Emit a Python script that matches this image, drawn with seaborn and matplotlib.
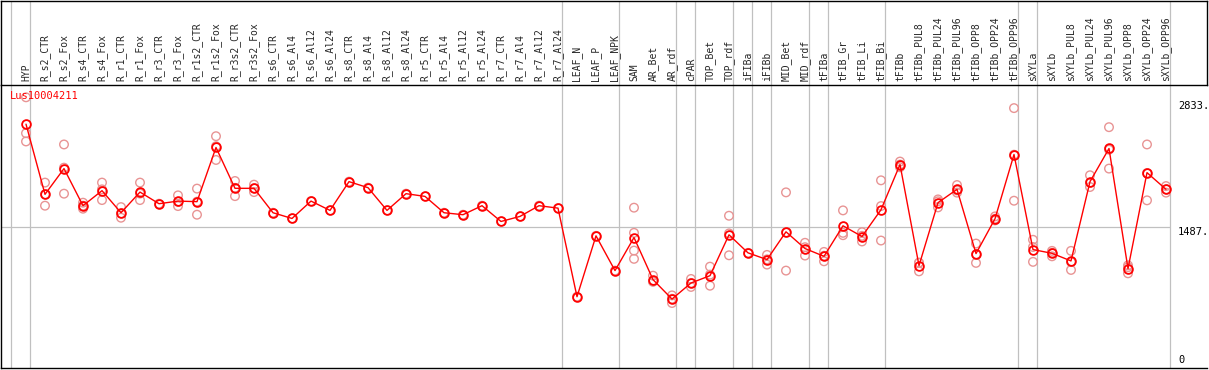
import numpy as np
import pandas as pd
import matplotlib
matplotlib.use("Agg")
import matplotlib.pyplot as plt
import seaborn as sns

categories = [
    "HYP", "R_s2_CTR", "R_s2_Fox", "R_s4_CTR", "R_s4_Fox", "R_r1_CTR", "R_r1_Fox",
    "R_r3_CTR", "R_r3_Fox", "R_r1s2_CTR", "R_r1s2_Fox", "R_r3s2_CTR", "R_r3s2_Fox",
    "R_s6_CTR", "R_s6_Al4", "R_s6_Al12", "R_s6_Al24", "R_s8_CTR", "R_s8_Al4",
    "R_s8_Al12", "R_s8_Al24", "R_r5_CTR", "R_r5_Al4", "R_r5_Al12", "R_r5_Al24",
    "R_r7_CTR", "R_r7_Al4", "R_r7_Al12", "R_r7_Al24", "LEAF_N", "LEAF_P", "LEAF_NPK",
    "SAM", "AR_Bet", "AR_rdf", "cPAR", "TOP_Bet", "TOP_rdf", "iFIBa", "iFIBb",
    "MID_Bet", "MID_rdf", "tFIBa", "tFIB_Gr", "tFIB_Li", "tFIB_Bi", "tFIBb",
    "tFIBb_PUL8", "tFIBb_PUL24", "tFIBb_PUL96", "tFIBb_OPP8", "tFIBb_OPP24",
    "tFIBb_OPP96", "sXYLa", "sXYLb", "sXYLb_PUL8", "sXYLb_PUL24", "sXYLb_PUL96",
    "sXYLb_OPP8", "sXYLb_OPP24", "sXYLb_OPP96",
]

mean_values = [
    2585, 1838, 2112, 1717, 1877, 1642, 1862, 1738, 1766, 1760, 2337, 1902, 1902,
    1642, 1581, 1766, 1667, 1973, 1909, 1667, 1845, 1816, 1642, 1621, 1717,
    1549, 1603, 1717, 1691, 748, 1396, 1026,
    1378, 930, 723, 894, 972, 1407, 1215, 1143,
    1439, 1261, 1178, 1503, 1389, 1674, 2155,
    1079, 1749, 1891, 1207, 1578, 2262,
    1250, 1210, 1129, 1973, 2326, 1047, 2069, 1891,
]

replicates = [
    [2871, 2489, 2401], [1963, 1717, 1838], [2369, 1845, 2122], [1749, 1685, 1717],
    [1963, 1777, 1891], [1702, 1589, 1635], [1963, 1777, 1846], [1738],
    [1827, 1713, 1758], [1899, 1621, 1760], [2457, 2204, 2350], [1980, 1819, 1907],
    [1941, 1862, 1903],
    [1642], [1581], [1766], [1667], [1973], [1909], [1667], [1845], [1816], [1642],
    [1621], [1717], [1549], [1603], [1717], [1691], [748], [1396], [1026],
    [1696, 1428, 1239, 1151], [972, 911, 907], [762, 681, 726], [937, 852, 893],
    [1068, 865, 983], [1610, 1189, 1422], [1215], [1193, 1090, 1146],
    [1859, 1026, 1432], [1322, 1186, 1275], [1225, 1125, 1184], [1667, 1428, 1403],
    [1435, 1336, 1396], [1987, 1346, 1713], [2187, 2155, 2126],
    [1108, 1018, 1111], [1784, 1699, 1764], [1937, 1856, 1880], [1314, 1108, 1199],
    [1603, 1578, 1560], [2756, 1770, 2260],
    [1354, 1119, 1277], [1236, 1178, 1216], [1236, 1033, 1118], [2041, 1916, 1962],
    [2553, 2112, 2313], [1082, 997, 1062], [2369, 1774, 2064], [1926, 1856, 1891],
]

group_ends = [-1, 0, 28, 31, 34, 35, 37, 38, 39, 41, 42, 45, 52, 53, 60]
ref_values = [2833, 1487, 0]
ref_labels = ["2833.", "1487.", "0"]
gene = "Lus10004211"

idx = np.arange(len(categories))
mean_df = pd.DataFrame({"x": idx, "y": mean_values})
rep_df = pd.DataFrame({
    "x": [i for i, r in enumerate(replicates) for _ in r],
    "y": [v for r in replicates for v in r],
})

sns.set_style("white")
plt.rcParams["font.family"] = ["DejaVu Sans Mono", "DejaVu Sans"]

W, H = 1209, 370
fig = plt.figure(figsize=(W / 100, H / 100), dpi=100)

left = 1.0 / W
width = 1206.0 / W
hdr_bottom = (H - 85.0) / H
ax_h = fig.add_axes([left, hdr_bottom, width, (84.5) / H])
ax = fig.add_axes([left, 2.0 / H, width, hdr_bottom - 2.0 / H])

xlim = ((1 - 26) / 19.0, (1207 - 26) / 19.0)
ylim = (-11, 3002)

gray = "#c0c0c0"
off = 4 / 19.0
for a in (ax_h, ax):
    a.set_xlim(*xlim)
    for g in group_ends:
        a.axvline(g + off, color=gray, lw=0.9, zorder=0)

# header
ax_h.set_ylim(0, 1)
ax_h.set_xticks([])
ax_h.set_yticks([])
for s in ax_h.spines.values():
    s.set_color("black")
    s.set_linewidth(1.0)
ax_h.spines["bottom"].set_visible(False)

# main
ax.set_ylim(*ylim)
ax.hlines(ref_values[1], xlim[0], len(categories) - 1 + off, color=gray, lw=0.9, zorder=0)

sns.scatterplot(data=rep_df, x="x", y="y", ax=ax, marker="o", s=38,
                facecolor="none", edgecolor="#e89494", linewidth=1.0, zorder=2,
                legend=False)
sns.lineplot(data=mean_df, x="x", y="y", ax=ax, color="red", lw=1.0,
             marker="o", markersize=6.3, markerfacecolor="none",
             markeredgecolor="red", markeredgewidth=1.3, zorder=3, legend=False)

ax.set_xlabel("")
ax.set_ylabel("")
ax.set_yticks([])
ax.set_xticks(idx)
ax.set_xticklabels(categories, rotation=90, fontsize=7,
                   family=["DejaVu Sans Mono"])
ax.xaxis.tick_top()
ax.tick_params(axis="x", length=0, pad=3, top=True, bottom=False,
               labeltop=True, labelbottom=False)
for lbl in ax.get_xticklabels():
    lbl.set_verticalalignment("bottom")

for s in ["left", "bottom", "top"]:
    ax.spines[s].set_color("black")
    ax.spines[s].set_linewidth(1.0)
ax.spines["right"].set_visible(False)

xlab = (1178 - 26) / 19.0
ax.text(xlab, ref_values[0], ref_labels[0], fontsize=7.5, va="top", ha="left",
        color="black")
ax.text(xlab, ref_values[1], ref_labels[1], fontsize=7.5, va="top", ha="left",
        color="black")
ax.text(xlab, ref_values[2] + 20, ref_labels[2], fontsize=7.5, va="bottom",
        ha="left", color="black")

ax.text((10 - 26) / 19.0, 2880, gene, color="red", fontsize=7.5, va="center",
        ha="left")

fig.savefig("out.png", dpi=100)
